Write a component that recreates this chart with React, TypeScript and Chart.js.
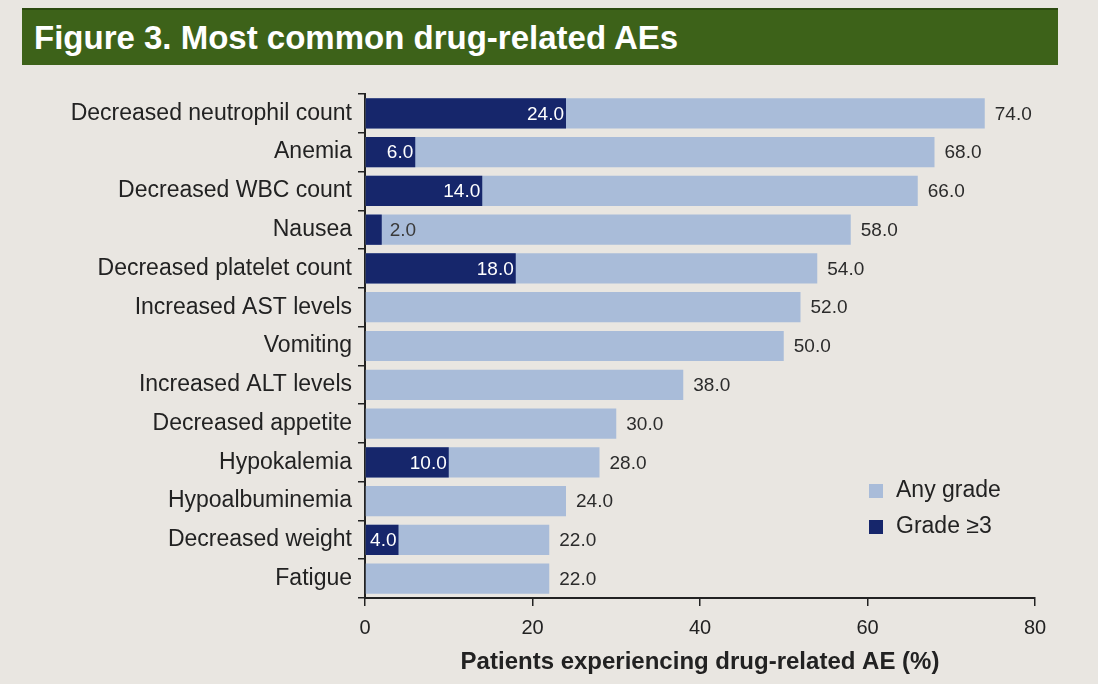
import React, { useEffect, useRef } from "react";
import { Chart, registerables } from "chart.js";

Chart.register(...registerables);

const categories = [
  "Decreased neutrophil count",
  "Anemia",
  "Decreased WBC count",
  "Nausea",
  "Decreased platelet count",
  "Increased AST levels",
  "Vomiting",
  "Increased ALT levels",
  "Decreased appetite",
  "Hypokalemia",
  "Hypoalbuminemia",
  "Decreased weight",
  "Fatigue",
];
const anyGrade = [74, 68, 66, 58, 54, 52, 50, 38, 30, 28, 24, 22, 22];
const grade3: (number | null)[] = [24, 6, 14, 2, 18, null, null, null, null, 10, null, 4, null];
const xTicks = [0, 20, 40, 60, 80];
const seriesNames = ["Any grade", "Grade \u22653"];

const LIGHT = "#a9bcd9";
const DARK = "#16266b";
const TEXT = "#222222";
const FONT = '"Liberation Sans", Arial, sans-serif';

const labelPlugin = {
  id: "barLabels",
  afterDatasetsDraw(chart: any) {
    const ctx = chart.ctx;
    const m0 = chart.getDatasetMeta(0);
    const m1 = chart.getDatasetMeta(1);
    ctx.save();
    ctx.font = `19px ${FONT}`;
    ctx.textBaseline = "middle";
    m0.data.forEach((el: any, i: number) => {
      const v = anyGrade[i];
      ctx.fillStyle = "#2b2b2b";
      ctx.textAlign = "left";
      ctx.fillText(v.toFixed(1), el.x + 10, el.y + 1);
    });
    m1.data.forEach((el: any, i: number) => {
      const v = grade3[i];
      if (v == null) return;
      const txt = v.toFixed(1);
      const w = ctx.measureText(txt).width;
      if (el.x - el.base >= w + 5) {
        ctx.fillStyle = "#ffffff";
        ctx.textAlign = "right";
        ctx.fillText(txt, el.x - 2, el.y + 1);
      } else {
        ctx.fillStyle = "#3a3a3a";
        ctx.textAlign = "left";
        ctx.fillText(txt, el.x + 8, el.y + 1);
      }
    });
    ctx.restore();
  },
};

const legendPlugin = {
  id: "customLegend",
  afterDraw(chart: any) {
    const ctx = chart.ctx;
    ctx.save();
    ctx.font = `23px ${FONT}`;
    ctx.textBaseline = "middle";
    ctx.textAlign = "left";
    const colors = [LIGHT, DARK];
    const x = 869;
    const y0 = 491;
    seriesNames.forEach((name, i) => {
      const y = y0 + i * 36;
      ctx.fillStyle = colors[i];
      ctx.fillRect(x, y - 7, 14, 14);
      ctx.fillStyle = TEXT;
      ctx.fillText(name, x + 27, y);
    });
    ctx.restore();
  },
};

export default function App() {
  const ref = useRef<HTMLCanvasElement>(null);
  useEffect(() => {
    if (!ref.current) return;
    const chart = new Chart(ref.current, {
      type: "bar",
      data: {
        labels: categories,
        datasets: [
          {
            label: seriesNames[0],
            data: anyGrade,
            backgroundColor: LIGHT,
            grouped: false,
            order: 1,
            barPercentage: 0.78,
            categoryPercentage: 1,
          } as any,
          {
            label: seriesNames[1],
            data: grade3,
            backgroundColor: DARK,
            grouped: false,
            order: 0,
            barPercentage: 0.78,
            categoryPercentage: 1,
          } as any,
        ],
      },
      options: {
        indexAxis: "y",
        responsive: false,
        animation: false,
        devicePixelRatio: 1,
        layout: { padding: { top: 94, right: 63, left: 0, bottom: 0 } },
        plugins: {
          legend: { display: false },
          tooltip: { enabled: false },
        },
        scales: {
          x: {
            min: 0,
            max: 80,
            afterBuildTicks: (s: any) => {
              s.ticks = xTicks.map((v) => ({ value: v }));
            },
            afterFit: (s: any) => {
              s.height = 86;
            },
            ticks: {
              color: TEXT,
              font: { size: 20, family: FONT },
              padding: 10,
            },
            grid: {
              drawOnChartArea: false,
              drawTicks: true,
              tickLength: 8,
              color: TEXT,
              lineWidth: 1.5,
            },
            border: { display: true, color: TEXT, width: 2 },
            title: {
              display: true,
              text: "Patients experiencing drug-related AE (%)",
              color: TEXT,
              font: { size: 24, weight: "bold", family: FONT },
              padding: { top: 4, bottom: 7 },
            },
          },
          y: {
            afterFit: (s: any) => {
              s.width = 365;
            },
            ticks: {
              color: TEXT,
              font: { size: 23, family: FONT },
              padding: 6,
            },
            grid: {
              drawOnChartArea: false,
              drawTicks: true,
              tickLength: 7,
              color: TEXT,
              lineWidth: 1.5,
              offset: true,
            },
            border: { display: true, color: TEXT, width: 2 },
          },
        },
      },
      plugins: [labelPlugin, legendPlugin],
    });
    return () => chart.destroy();
  }, []);

  return (
    <div
      style={{
        position: "fixed",
        left: 0,
        top: 0,
        width: 1098,
        height: 684,
        background: "#e9e6e1",
        overflow: "hidden",
      }}
    >
      <canvas ref={ref} width={1098} height={684} style={{ position: "absolute", left: 0, top: 0 }} />
      <div
        style={{
          position: "absolute",
          left: 22,
          top: 8,
          width: 1036,
          height: 57,
          background: "#3d6219",
          borderTop: "2px solid #2c4a10",
          boxSizing: "border-box",
          color: "#ffffff",
          fontFamily: FONT,
          fontWeight: "bold",
          fontSize: 33,
          lineHeight: "55px",
          paddingLeft: 12,
          whiteSpace: "nowrap",
        }}
      >
        Figure 3. Most common drug-related AEs
      </div>
    </div>
  );
}
